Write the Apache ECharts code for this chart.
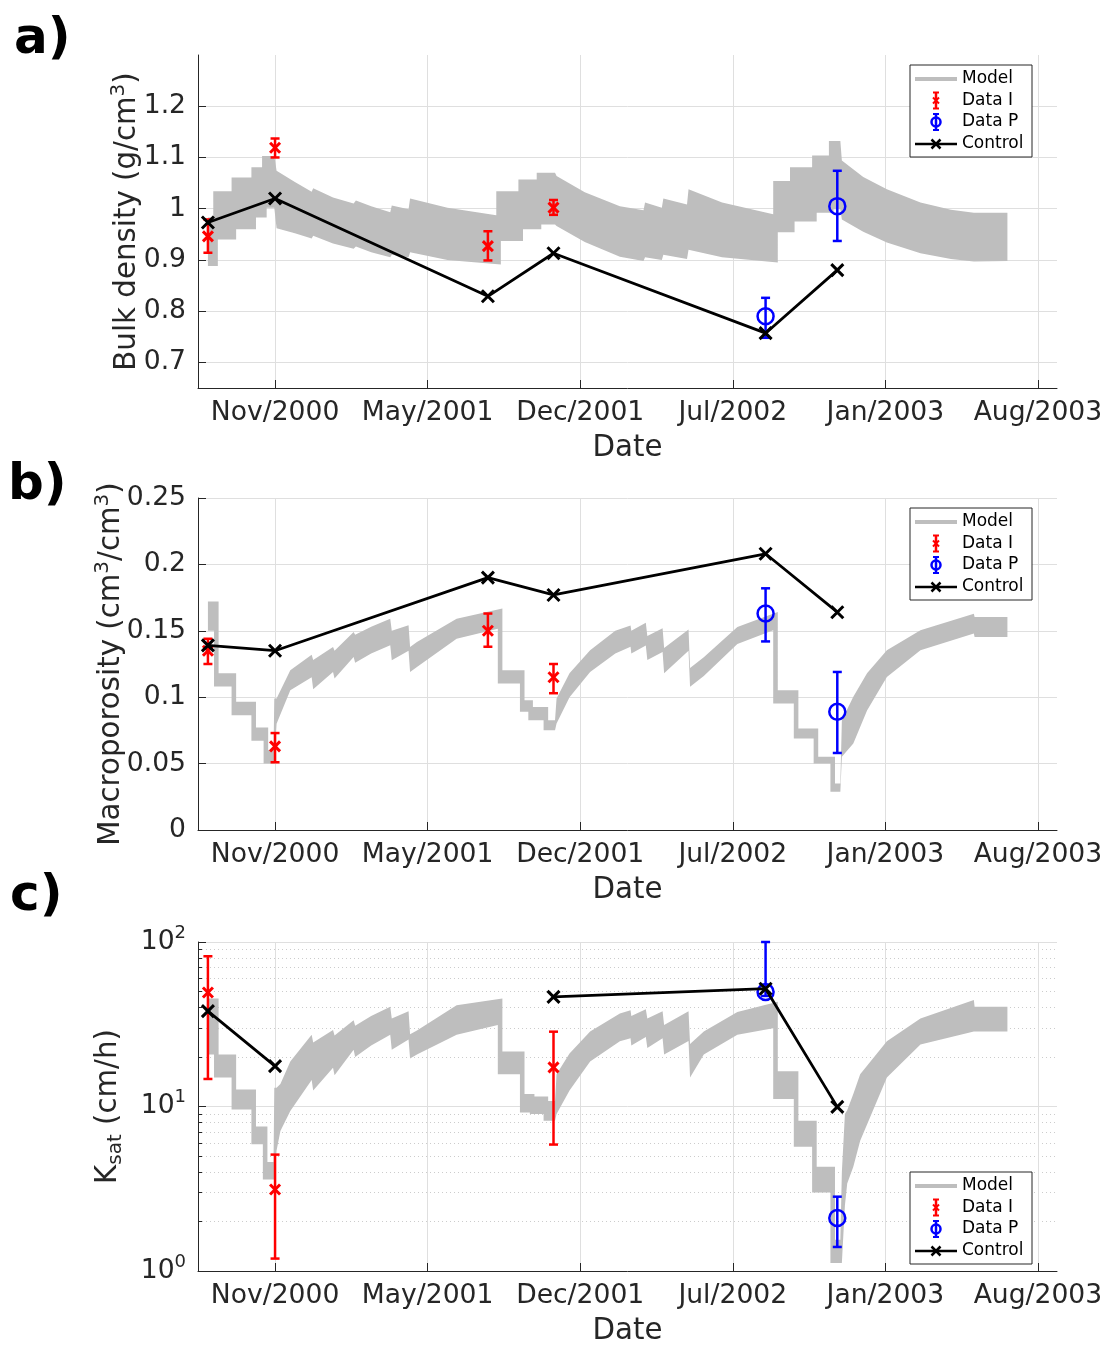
<!DOCTYPE html>
<html lang="en">
<head>
<meta charset="UTF-8">
<title>Bulk density, macroporosity and Ksat</title>
<script src="https://cdn.jsdelivr.net/npm/echarts@6.0.0/dist/echarts.min.js"></script>
<style>
  html, body { margin: 0; padding: 0; background: #fff; }
  #chart { width: 1108px; height: 1347px; }
</style>
</head>
<body>
<div id="chart"></div>
<script>
// x values are days counted from 2000-01-01
var tickDays = [314, 514, 714, 914, 1114, 1314];
var tickLabels = ['Nov/2000', 'May/2001', 'Dec/2001', 'Jul/2002', 'Jan/2003', 'Aug/2003'];
var dayMin = 213;   // 1 Aug 2000
var dayMax = 1339;  // 1 Sep 2003

var controlDays = [226, 314, 593, 679, 957, 1051];
var dataIDays = [226, 314, 593, 679];
var dataPDays = [957, 1051];

// a) bulk density
var bdTicks = [0.7, 0.8, 0.9, 1, 1.1, 1.2];
var bdModelDays = [226, 233, 233, 257, 257, 283, 283, 297, 297, 313, 316, 340, 362, 364, 390, 417, 420, 440, 465, 467,
  489, 491, 540, 604, 604, 633, 633, 657, 657, 681, 683, 720, 766, 797, 799, 821, 823, 854, 856, 900,
  967, 967, 989, 989, 1018, 1018, 1040, 1040, 1055, 1057, 1085, 1116, 1160, 1200, 1230, 1274];
var bdModelLow = [0.888, 0.888, 0.940, 0.940, 0.960, 0.960, 0.983, 0.983, 1.002, 1.002, 0.962, 0.952, 0.942, 0.947, 0.932, 0.922, 0.926, 0.915, 0.905, 0.910,
  0.905, 0.915, 0.900, 0.891, 0.937, 0.937, 0.960, 0.960, 0.969, 0.969, 0.966, 0.935, 0.906, 0.898, 0.905, 0.900, 0.910, 0.902, 0.920, 0.905,
  0.895, 0.954, 0.954, 0.975, 0.975, 0.992, 0.992, 0.999, 0.999, 0.979, 0.955, 0.934, 0.913, 0.902, 0.897, 0.898];
var bdModelHigh = [0.983, 0.983, 1.034, 1.034, 1.061, 1.061, 1.081, 1.081, 1.103, 1.103, 1.074, 1.052, 1.033, 1.040, 1.022, 1.010, 1.016, 1.005, 0.993, 1.006,
  0.999, 1.020, 1.002, 0.987, 1.034, 1.034, 1.057, 1.057, 1.070, 1.070, 1.064, 1.032, 1.005, 0.997, 1.012, 1.002, 1.020, 1.008, 1.038, 1.012,
  0.989, 1.054, 1.054, 1.081, 1.081, 1.104, 1.104, 1.132, 1.132, 1.094, 1.062, 1.038, 1.012, 0.998, 0.992, 0.992];
var bdDataI = [0.946, 1.119, 0.927, 1.002];
var bdDataILow = [0.914, 1.100, 0.899, 0.988];
var bdDataIHigh = [0.979, 1.137, 0.956, 1.017];
var bdDataP = [0.790, 1.005];
var bdDataPLow = [0.748, 0.937];
var bdDataPHigh = [0.826, 1.074];
var bdControl = [0.973, 1.020, 0.829, 0.913, 0.757, 0.880];

// b) macroporosity
var mpModelDays = [226, 234, 234, 257, 257, 283, 283, 299, 299, 312, 313, 316, 334, 362, 364, 390, 392, 417, 419, 440,
  465, 467, 489, 491, 500, 552, 606, 606, 635, 635, 646, 646, 666, 666, 681, 683, 700, 727, 760, 780,
  781, 800, 802, 822, 824, 856, 858, 876, 920, 967, 967, 994, 994, 1020, 1020, 1042, 1042, 1055, 1057, 1072,
  1090, 1116, 1160, 1230, 1231, 1274];
var mpModelLow = [0.150, 0.150, 0.108, 0.108, 0.0865, 0.0865, 0.0672, 0.0672, 0.0501, 0.0501, 0.0501, 0.080, 0.1053, 0.115, 0.106, 0.119, 0.114, 0.1303, 0.126, 0.133,
  0.1391, 0.1278, 0.135, 0.119, 0.1228, 0.1441, 0.1516, 0.1103, 0.1103, 0.089, 0.089, 0.0827, 0.0827, 0.0752, 0.0752, 0.0802, 0.100, 0.119, 0.133, 0.138,
  0.133, 0.139, 0.128, 0.134, 0.118, 0.135, 0.1078, 0.116, 0.140, 0.1504, 0.0952, 0.0952, 0.0689, 0.0689, 0.0501, 0.0501, 0.0288, 0.0288, 0.0551, 0.0652,
  0.090, 0.1153, 0.1353, 0.1479, 0.1454, 0.1454];
var mpModelHigh = [0.172, 0.172, 0.118, 0.118, 0.0965, 0.0965, 0.0772, 0.0772, 0.0602, 0.0602, 0.099, 0.099, 0.1203, 0.132, 0.128, 0.1378, 0.135, 0.1491, 0.147, 0.153,
  0.1591, 0.150, 0.1541, 0.1378, 0.1416, 0.1591, 0.1667, 0.1203, 0.1203, 0.0977, 0.0977, 0.0927, 0.0927, 0.0827, 0.0827, 0.099, 0.118, 0.1353, 0.150, 0.154,
  0.150, 0.156, 0.146, 0.152, 0.137, 0.151, 0.122, 0.130, 0.1529, 0.1641, 0.1053, 0.1053, 0.0764, 0.0764, 0.0551, 0.0551, 0.0351, 0.0351, 0.0827, 0.1003,
  0.118, 0.1353, 0.1504, 0.1629, 0.1604, 0.1604];
var mpDataI = [0.135, 0.063, 0.150, 0.115];
var mpDataILow = [0.125, 0.051, 0.138, 0.103];
var mpDataIHigh = [0.144, 0.073, 0.163, 0.125];
var mpDataP = [0.163, 0.089];
var mpDataPLow = [0.142, 0.058];
var mpDataPHigh = [0.182, 0.119];
var mpControl = [0.139, 0.135, 0.190, 0.177, 0.208, 0.164];

// c) saturated hydraulic conductivity (log axis)
var ksMinorTicks = [2, 3, 4, 5, 6, 7, 8, 9, 20, 30, 40, 50, 60, 70, 80, 90];
var ksModelDays = [226, 234, 234, 257, 257, 283, 283, 298, 298, 312, 313, 316, 321, 334, 362, 364, 390, 392, 417, 419,
  440, 465, 467, 489, 491, 500, 552, 606, 606, 635, 635, 648, 648, 666, 666, 681, 683, 700, 727, 766,
  780, 781, 800, 802, 822, 824, 856, 858, 876, 920, 967, 967, 994, 994, 1018, 1018, 1042, 1042, 1055, 1057,
  1061, 1064, 1072, 1081, 1116, 1160, 1230, 1231, 1274];
var ksModelLow = [20.7, 20.7, 15.0, 15.0, 9.6, 9.6, 5.9, 5.9, 3.6, 3.6, 3.6, 5.4, 7.1, 9.4, 14.5, 12.5, 17.2, 15.5, 22.1, 20.0,
  23.5, 27.3, 22.1, 25.5, 19.6, 20.7, 27.3, 31.3, 15.7, 15.7, 9.2, 9.2, 9.0, 9.0, 8.2, 8.2, 9.0, 12.5, 18.8, 24.9,
  26.0, 23.5, 26.5, 22.7, 26.0, 20.7, 25.0, 15.0, 20.7, 27.3, 29.9, 11.1, 11.1, 5.7, 5.7, 3.0, 3.0, 1.12, 1.12, 1.12,
  2.5, 3.4, 4.3, 6.2, 15.0, 23.8, 28.6, 28.6, 28.6];
var ksModelHigh = [45.4, 45.4, 20.7, 20.7, 12.7, 12.7, 7.55, 7.55, 4.6, 4.6, 13.0, 13.0, 13.7, 18.8, 27.3, 24.5, 29.2, 27.0, 33.5, 31.0,
  35.5, 40.4, 34.3, 38.0, 27.5, 29.0, 41.3, 45.4, 21.6, 21.6, 11.9, 11.9, 11.5, 11.5, 10.8, 10.8, 15.7, 21.0, 28.6, 36.8,
  38.5, 35.5, 39.0, 34.3, 38.0, 31.3, 38.0, 24.0, 28.6, 37.6, 43.3, 16.4, 16.4, 8.2, 8.2, 4.3, 4.3, 1.55, 1.55, 4.0,
  9.0, 9.5, 11.9, 15.7, 24.9, 34.3, 44.4, 40.4, 40.4];
var ksDataIDays = [226, 314, 679];
var ksDataI = [49.3, 3.13, 17.3];
var ksDataILow = [14.7, 1.19, 5.87];
var ksDataIHigh = [81.9, 5.1, 28.5];
var ksDataP = [49.7, 2.1];
var ksDataPLow = [47, 1.40];
var ksDataPHigh = [100, 2.83];
var ksControl = [38, 17.6, null, 46.4, 52, 9.95];

var FONT = 'DejaVu Sans';
var AXIS_COLOR = '#262626';
var GRID_COLOR = '#dfdfdf';
var MODEL_COLOR = '#bebebe';
var CROSS = 'path://M0,0L10,10M10,0L0,10';
var STEP_DAYS = 6;  // width of the vertical strip joining two model steps
var TICK_FS = 26.6;
var NAME_FS = 29.3;

var chart = echarts.init(document.getElementById('chart'));

function rows(days, c, lo, hi) {
  var out = [];
  for (var i = 0; i < days.length; i++) {
    out.push([days[i], c[i], lo[i], hi[i]]);
  }
  return out;
}

// model band: upper edge forward, lower edge back; where a step happens
// (same day twice) the falling edge is pushed a few days right so blocks join
function bandItem(days, low, high) {
  return function (params, api) {
    var n = days.length, up = [], dn = [], i;
    for (i = 0; i < n; i++) {
      var stepDown = false, stepUp = false;
      if (i + 1 < n && days[i + 1] === days[i]) {
        if (high[i + 1] < high[i]) stepDown = true; else stepUp = true;
      }
      if (i > 0 && days[i - 1] === days[i]) {
        if (high[i] < high[i - 1]) stepDown = true; else stepUp = true;
      }
      up.push(api.coord([days[i] + (stepDown ? STEP_DAYS : 0), high[i]]));
      dn.push(api.coord([days[i] + (stepUp ? STEP_DAYS : 0), low[i]]));
    }
    return { type: 'polygon', shape: { points: up.concat(dn.reverse()) }, style: { fill: MODEL_COLOR } };
  };
}

function errorBarItem(marker, color) {
  return function (params, api) {
    var c = api.coord([api.value(0), api.value(1)]);
    var lo = api.coord([api.value(0), api.value(2)]);
    var hi = api.coord([api.value(0), api.value(3)]);
    var x = c[0];
    var w = 4.5;
    var st = { stroke: color, lineWidth: 2.5 };
    var kids = [
      { type: 'line', shape: { x1: x, y1: lo[1], x2: x, y2: hi[1] }, style: st },
      { type: 'line', shape: { x1: x - w, y1: lo[1], x2: x + w, y2: lo[1] }, style: st },
      { type: 'line', shape: { x1: x - w, y1: hi[1], x2: x + w, y2: hi[1] }, style: st }
    ];
    if (marker === 'circle') {
      kids.push({ type: 'circle', shape: { cx: x, cy: c[1], r: 8 }, style: { stroke: color, lineWidth: 2.5, fill: 'none' } });
    } else {
      kids.push({ type: 'line', shape: { x1: x - 5, y1: c[1] - 5, x2: x + 5, y2: c[1] + 5 }, style: { stroke: color, lineWidth: 3 } });
      kids.push({ type: 'line', shape: { x1: x - 5, y1: c[1] + 5, x2: x + 5, y2: c[1] - 5 }, style: { stroke: color, lineWidth: 3 } });
    }
    return { type: 'group', children: kids };
  };
}

function xAxisFor(i) {
  return {
    type: 'value', gridIndex: i, min: dayMin, max: dayMax,
    name: 'Date', nameLocation: 'middle', nameGap: 46,
    nameTextStyle: { fontFamily: FONT, fontSize: NAME_FS, color: AXIS_COLOR },
    axisLine: { onZero: false, lineStyle: { color: AXIS_COLOR, width: 1 } },
    axisTick: { inside: true, length: 8, customValues: tickDays, lineStyle: { color: AXIS_COLOR } },
    axisLabel: {
      customValues: tickDays, margin: 12, fontFamily: FONT, fontSize: TICK_FS, color: AXIS_COLOR,
      formatter: function (v) {
        for (var k = 0; k < tickDays.length; k++) if (Math.abs(tickDays[k] - v) < 0.5) return tickLabels[k];
        return '';
      }
    },
    splitLine: { show: true, lineStyle: { color: GRID_COLOR, width: 1 } }
  };
}

var nameRich = {
  k: { fontFamily: FONT, fontSize: NAME_FS, color: AXIS_COLOR, lineHeight: 36 },
  sup: { fontFamily: FONT, fontSize: 20, color: AXIS_COLOR, lineHeight: 20, verticalAlign: 'top' },
  sub: { fontFamily: FONT, fontSize: 20, color: AXIS_COLOR, lineHeight: 22, verticalAlign: 'bottom' }
};

function yCommon(extra) {
  var base = {
    nameLocation: 'middle', nameRotate: 90, nameMoveOverlap: false,
    nameTextStyle: { fontFamily: FONT, fontSize: NAME_FS, color: AXIS_COLOR, rich: nameRich },
    axisLine: { show: true, lineStyle: { color: AXIS_COLOR, width: 1 } },
    axisTick: { show: true, inside: true, length: 8, lineStyle: { color: AXIS_COLOR } },
    axisLabel: {
      margin: 12, fontFamily: FONT, fontSize: TICK_FS, color: AXIS_COLOR,
      formatter: function (v) { return String(Math.round(v * 100) / 100); }
    },
    splitLine: { show: true, lineStyle: { color: GRID_COLOR, width: 1 } }
  };
  for (var k in extra) {
    if (typeof extra[k] === 'object' && base[k] && !Array.isArray(extra[k])) {
      for (var j in extra[k]) base[k][j] = extra[k][j];
    } else {
      base[k] = extra[k];
    }
  }
  return base;
}

function legendBox(top) {
  var rowY = [top + 14, top + 35.5, top + 57, top + 79];
  var lx = 936;
  var red = '#ff0000', blue = '#0000ff';
  function seg(x1, y1, x2, y2, color, width) {
    return { type: 'line', z: 100, shape: { x1: x1, y1: y1, x2: x2, y2: y2 }, style: { stroke: color, lineWidth: width } };
  }
  var kids = [
    { type: 'rect', z: 99, shape: { x: 910, y: top, width: 122, height: 92 }, style: { fill: '#fff', stroke: AXIS_COLOR, lineWidth: 1 } },
    seg(915, rowY[0], 957, rowY[0], MODEL_COLOR, 4),
    seg(lx, rowY[1] - 8, lx, rowY[1] + 8, red, 2.5),
    seg(lx - 3, rowY[1] - 8, lx + 3, rowY[1] - 8, red, 2),
    seg(lx - 3, rowY[1] + 8, lx + 3, rowY[1] + 8, red, 2),
    seg(lx - 3, rowY[1] - 3, lx + 3, rowY[1] + 3, red, 2),
    seg(lx - 3, rowY[1] + 3, lx + 3, rowY[1] - 3, red, 2),
    seg(lx, rowY[2] - 8, lx, rowY[2] + 8, blue, 2.5),
    seg(lx - 3, rowY[2] - 8, lx + 3, rowY[2] - 8, blue, 2),
    seg(lx - 3, rowY[2] + 8, lx + 3, rowY[2] + 8, blue, 2),
    { type: 'circle', z: 100, shape: { cx: lx, cy: rowY[2], r: 4.5 }, style: { stroke: blue, lineWidth: 2.5, fill: 'none' } },
    seg(915, rowY[3], 957, rowY[3], '#000', 2.5),
    seg(lx - 4.5, rowY[3] - 4.5, lx + 4.5, rowY[3] + 4.5, '#000', 2.5),
    seg(lx - 4.5, rowY[3] + 4.5, lx + 4.5, rowY[3] - 4.5, '#000', 2.5)
  ];
  var names = ['Model', 'Data I', 'Data P', 'Control'];
  for (var i = 0; i < names.length; i++) {
    kids.push({
      type: 'text', z: 100,
      style: { x: 962, y: rowY[i], text: names[i], font: '17px "DejaVu Sans"', fill: '#000', verticalAlign: 'middle' }
    });
  }
  return { type: 'group', z: 100, children: kids };
}

function panelSeries(p, yIdx, modelDays, modelLow, modelHigh, iDays, iVal, iLow, iHigh, pVal, pLow, pHigh, control) {
  var ctrl = [];
  for (var i = 0; i < controlDays.length; i++) ctrl.push([controlDays[i], control[i]]);
  return [
    {
      name: 'Model', type: 'custom', xAxisIndex: p, yAxisIndex: yIdx, silent: true, z: 1,
      renderItem: bandItem(modelDays, modelLow, modelHigh),
      data: [[modelDays[0], modelHigh[0]]]
    },
    {
      name: 'Data I', type: 'custom', xAxisIndex: p, yAxisIndex: yIdx, silent: true, z: 3,
      renderItem: errorBarItem('cross', '#ff0000'),
      encode: { x: 0, y: [1, 2, 3] },
      data: rows(iDays, iVal, iLow, iHigh)
    },
    {
      name: 'Data P', type: 'custom', xAxisIndex: p, yAxisIndex: yIdx, silent: true, z: 3,
      renderItem: errorBarItem('circle', '#0000ff'),
      encode: { x: 0, y: [1, 2, 3] },
      data: rows(dataPDays, pVal, pLow, pHigh)
    },
    {
      name: 'Control', type: 'line', xAxisIndex: p, yAxisIndex: yIdx, z: 4,
      data: ctrl, connectNulls: false, showAllSymbol: true,
      symbol: CROSS, symbolSize: 12,
      lineStyle: { color: '#000', width: 2.8 },
      itemStyle: { color: '#000', borderColor: '#000', borderWidth: 3 },
      emphasis: { disabled: true }
    }
  ];
}

var logLabel = function (v) {
  return '{b|10}{s|' + Math.round(Math.log(v) / Math.LN10) + '}';
};

var option = {
  animation: false,
  backgroundColor: '#fff',
  textStyle: { fontFamily: FONT },
  grid: [
    { left: 198, top: 55, width: 859, height: 333 },
    { left: 198, top: 498, width: 859, height: 332 },
    { left: 198, top: 942, width: 859, height: 331 }
  ],
  xAxis: [xAxisFor(0), xAxisFor(1), xAxisFor(2)],
  yAxis: [
    yCommon({
      type: 'value', gridIndex: 0, min: 0.65, max: 1.3,
      name: '{k|Bulk density (g/cm}{sup|3}{k|)}', nameGap: 53,
      axisTick: { customValues: bdTicks }, axisLabel: { customValues: bdTicks }
    }),
    yCommon({
      type: 'value', gridIndex: 1, min: 0, max: 0.25, interval: 0.05,
      name: '{k|Macroporosity (cm}{sup|3}{k|/cm}{sup|3}{k|)}', nameGap: 69
    }),
    yCommon({
      type: 'log', logBase: 10, gridIndex: 2, min: 1, max: 100,
      name: '{k|K}{sub|sat}{k| (cm/h)}', nameGap: 72,
      axisLabel: {
        formatter: logLabel,
        rich: {
          b: { fontFamily: FONT, fontSize: TICK_FS, color: AXIS_COLOR, lineHeight: 36 },
          s: { fontFamily: FONT, fontSize: 18, color: AXIS_COLOR, lineHeight: 18, verticalAlign: 'top' }
        }
      }
    }),
    {
      type: 'log', logBase: 10, gridIndex: 2, min: 1, max: 100, position: 'left',
      axisLine: { show: false },
      axisTick: { show: true, inside: true, length: 4, customValues: ksMinorTicks, lineStyle: { color: AXIS_COLOR } },
      axisLabel: { show: false, customValues: ksMinorTicks },
      splitLine: { show: true, lineStyle: { color: '#cccccc', width: 1, type: [1, 3] } }
    }
  ],
  graphic: [
    { type: 'text', z: 100, style: { x: 14, y: 40, text: 'a)', font: 'bold 50px "DejaVu Sans"', fill: '#000', verticalAlign: 'middle' } },
    { type: 'text', z: 100, style: { x: 8, y: 486, text: 'b)', font: 'bold 50px "DejaVu Sans"', fill: '#000', verticalAlign: 'middle' } },
    { type: 'text', z: 100, style: { x: 10, y: 897, text: 'c)', font: 'bold 50px "DejaVu Sans"', fill: '#000', verticalAlign: 'middle' } },
    legendBox(65),
    legendBox(508),
    legendBox(1172)
  ],
  series: [].concat(
    panelSeries(0, 0, bdModelDays, bdModelLow, bdModelHigh, dataIDays, bdDataI, bdDataILow, bdDataIHigh, bdDataP, bdDataPLow, bdDataPHigh, bdControl),
    panelSeries(1, 1, mpModelDays, mpModelLow, mpModelHigh, dataIDays, mpDataI, mpDataILow, mpDataIHigh, mpDataP, mpDataPLow, mpDataPHigh, mpControl),
    panelSeries(2, 2, ksModelDays, ksModelLow, ksModelHigh, ksDataIDays, ksDataI, ksDataILow, ksDataIHigh, ksDataP, ksDataPLow, ksDataPHigh, ksControl)
  )
};

chart.setOption(option);
</script>
</body>
</html>
